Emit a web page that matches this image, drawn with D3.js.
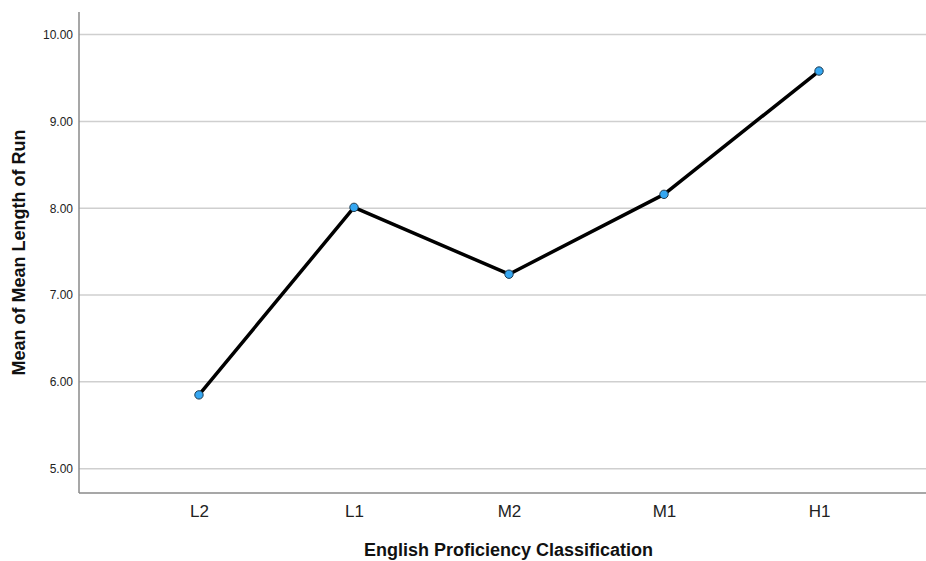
<!DOCTYPE html>
<html>
<head>
<meta charset="utf-8">
<script src="https://cdn.jsdelivr.net/npm/d3@7"></script>
<style>
html,body{margin:0;padding:0;background:#fff;}
svg{display:block;font-family:"Liberation Sans",Arial,Helvetica,sans-serif;}
</style>
</head>
<body>
<svg id="chart" width="926" height="561"></svg>
<script>
const categories = ["L2", "L1", "M2", "M1", "H1"];
const values = [5.85, 8.01, 7.24, 8.16, 9.58];
const yTicks = [5, 6, 7, 8, 9, 10];
const xTitle = "English Proficiency Classification";
const yTitle = "Mean of Mean Length of Run";

(function () {
const svg = d3.select("#chart");
const mLeft = 79, mRight = 926, mTop = 12, mBottom = 493;

const x = d3.scalePoint().domain(categories).range([mLeft, 939]).padding(0.774);
const y = d3.scaleLinear().domain([4.72, 10.26]).range([mBottom, mTop]);

// gridlines
svg.append("g").selectAll("line").data(yTicks).join("line")
  .attr("x1", mLeft).attr("x2", mRight)
  .attr("y1", d => y(d)).attr("y2", d => y(d))
  .attr("stroke", "#cfcfcf").attr("stroke-width", 1.5);

// y axis
const yAxis = svg.append("g").attr("transform", `translate(${mLeft},0)`)
  .call(d3.axisLeft(y).tickValues(yTicks).tickFormat(d3.format(".2f")).tickSize(0).tickPadding(6));
yAxis.select(".domain").remove();
yAxis.selectAll("text").attr("font-size", 12).attr("fill", "#222").attr("font-family", "Liberation Sans, Arial, sans-serif");
svg.append("line").attr("x1", mLeft).attr("x2", mLeft).attr("y1", mTop).attr("y2", mBottom)
  .attr("stroke", "#8a8a8a").attr("stroke-width", 1.5);

// x axis
const xAxis = svg.append("g").attr("transform", `translate(0,${mBottom})`)
  .call(d3.axisBottom(x).tickSize(0).tickPadding(12));
xAxis.select(".domain").remove();
xAxis.selectAll("text").attr("font-size", 17).attr("fill", "#222").attr("font-family", "Liberation Sans, Arial, sans-serif");
svg.append("line").attr("x1", mLeft).attr("x2", mRight).attr("y1", mBottom).attr("y2", mBottom)
  .attr("stroke", "#8a8a8a").attr("stroke-width", 1.5);

// line
const line = d3.line().x((d, i) => x(categories[i])).y(d => y(d));
svg.append("path").datum(values).attr("d", line)
  .attr("fill", "none").attr("stroke", "#000").attr("stroke-width", 3.5)
  .attr("stroke-linejoin", "round");

// points
svg.append("g").selectAll("circle").data(values).join("circle")
  .attr("cx", (d, i) => x(categories[i])).attr("cy", d => y(d)).attr("r", 4.2)
  .attr("fill", "#35a7f2").attr("stroke", "#1f3a4d").attr("stroke-width", 1);

// titles
svg.append("text").attr("x", 508.5).attr("y", 556).attr("text-anchor", "middle")
  .attr("font-size", 18).attr("font-weight", "bold").attr("fill", "#111").text(xTitle);
svg.append("text").attr("transform", "translate(24.5,252.5) rotate(-90)").attr("text-anchor", "middle")
  .attr("font-size", 18).attr("font-weight", "bold").attr("fill", "#111").text(yTitle);
})();
</script>
</body>
</html>
